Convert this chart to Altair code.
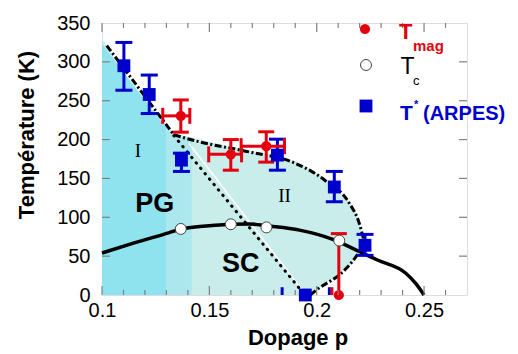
import altair as alt
import pandas as pd

# ---------------- data ----------------
# Tc dome (solid black curve)
dome_p = [0.100, 0.115, 0.131, 0.137, 0.1455, 0.160, 0.1687, 0.1766, 0.192, 0.2075, 0.2198, 0.2283, 0.2415, 0.2461, 0.250]
dome_T = [54, 67, 80, 85, 88, 91, 91.5, 89, 83.5, 71.6, 56, 45, 28, 15, 0]

# T* crossover (dash-dot boundary), split in three pieces
left_p = [0.1022, 0.1335]
left_T = [321, 206]
upper_p = [0.1335, 0.1455, 0.1687, 0.1896, 0.2036, 0.2152, 0.2198, 0.2222]
upper_T = [206, 197, 184, 170, 148, 118, 92.5, 68]
lower_p = [0.1970, 0.1997, 0.2137, 0.2198, 0.2222]
lower_T = [0, 6, 34, 55.7, 68]

# dotted line and white line
dot_p = [0.1335, 0.1945]
dot_T = [205, 0]
white_p = [0.1405, 0.1945]
white_T = [195, 2]

# shaded regions
light_p = [0.100, 0.1335, 0.1455, 0.1687, 0.1896, 0.197, 0.1997, 0.2036, 0.2137, 0.2152, 0.2198, 0.2222]
light_top = [330, 210, 200, 186, 172, 162, 158, 150, 124, 120, 94, 68]
light_bot = [0, 0, 0, 0, 0, 0, 6, 14, 34, 37, 55.7, 68]
dark_p = [0.100, 0.130]
dark_top = [323, 215]
hatch_p = [0.130, 0.1334, 0.1418]
hatch_top = [215, 203, 203]

# T* (ARPES) blue squares
arpes_p = [0.1102, 0.1220, 0.1370, 0.1817, 0.2082, 0.2225, 0.1947]
arpes_T = [295, 258, 173.5, 180, 139, 64, 0]
arpes_lo = [263.5, 233.5, 159, 160.6, 120, 51, None]
arpes_hi = [325, 283, 182.5, 200.5, 159, 78, None]

# T_mag red circles
mag_p = [0.1367, 0.1600, 0.1765, 0.2103]
mag_T = [230.5, 181, 191.5, 0]
mag_lo = [209.5, 160.6, 171, 0]
mag_hi = [251, 200, 210, 79]
mag_plo = [0.1283, 0.1497, 0.1648, None]
mag_phi = [0.1409, 0.1650, 0.1850, None]

# Tc open circles
tc_p = [0.1367, 0.1600, 0.1766, 0.2105]
tc_T = [85, 91, 87, 70]

# stubs of error bars at the bottom axis
stub_p = [0.1839, 0.2059, 0.2071]
stub_hi = [10, 10, 10]
stub_col = ["blue", "blue", "red"]

# region labels
lab_text = ["I", "II"]
lab_p = [0.1167, 0.185]
lab_T = [177, 120]
big_text = ["PG", "SC"]
big_p = [0.1246, 0.1646]
big_T = [106.7, 29.6]

x_labels = [0.1, 0.15, 0.2, 0.25]
y_labels = [0, 50, 100, 150, 200, 250, 300, 350]
x_minor = [0.11, 0.12, 0.13, 0.14, 0.16, 0.17, 0.18, 0.19, 0.21, 0.22, 0.23, 0.24, 0.26]

# ---------------- styling ----------------
W, H = 365, 272
FONT = "Liberation Sans"
RED = "#E3000F"
BLUE = "#0000CC"
DARK = "#8EE3EE"
LIGHT = "#C9EDEA"
HATCH = "#ACE7EE"
GRAY = "#808080"

xs = alt.Scale(domain=[0.1, 0.27], nice=False, zero=False)
ys = alt.Scale(domain=[0, 350], nice=False)
xax = alt.Axis(values=x_labels, format=".2~f", ticks=False, tickSize=0, domain=False, grid=False,
               labelFlush=False, labelOverlap=False,
               labelFont=FONT, labelFontSize=20, labelColor="black", labelPadding=5, title=None)
yax = alt.Axis(values=y_labels, ticks=False, tickSize=0, domain=False, grid=False,
               labelFlush=False, labelOverlap=False,
               labelFont=FONT, labelFontSize=20, labelColor="black", labelPadding=12, title=None)


def X(f="p"):
    return alt.X(f"{f}:Q", scale=xs, axis=xax)


def Y(f="T"):
    return alt.Y(f"{f}:Q", scale=ys, axis=yax)


one = pd.DataFrame({"a": [0]})
layers = []

# areas
df_light = pd.DataFrame({"p": light_p, "top": light_top, "bot": light_bot})
layers.append(alt.Chart(df_light).mark_area(color=LIGHT, opacity=1, interpolate="monotone").encode(
    x=X(), y=Y("top"), y2="bot:Q"))
df_dark = pd.DataFrame({"p": dark_p, "top": dark_top, "bot": [0] * len(dark_p)})
layers.append(alt.Chart(df_dark).mark_area(color=DARK, opacity=1).encode(x=X(), y=Y("top"), y2="bot:Q"))
df_hatch = pd.DataFrame({"p": hatch_p, "top": hatch_top, "bot": [0] * len(hatch_p)})
layers.append(alt.Chart(df_hatch).mark_area(color=HATCH, opacity=1).encode(x=X(), y=Y("top"), y2="bot:Q"))

# white and dotted lines
layers.append(alt.Chart(pd.DataFrame({"p": white_p, "T": white_T})).mark_line(
    color="white", strokeWidth=1.6).encode(x=X(), y=Y()))
layers.append(alt.Chart(pd.DataFrame({"p": dot_p, "T": dot_T})).mark_line(
    color="black", strokeWidth=3, strokeDash=[0.5, 6.5], strokeCap="round").encode(x=X(), y=Y()))

# T* boundary
dash = [7, 2.5, 2, 2.5]
layers.append(alt.Chart(pd.DataFrame({"p": left_p, "T": left_T})).mark_line(
    color="black", strokeWidth=3, strokeDash=dash).encode(x=X(), y=Y()))
layers.append(alt.Chart(pd.DataFrame({"p": upper_p, "T": upper_T})).mark_line(
    color="black", strokeWidth=3, strokeDash=dash, interpolate="monotone").encode(x=X(), y=Y()))
layers.append(alt.Chart(pd.DataFrame({"p": lower_p, "T": lower_T})).mark_line(
    color="black", strokeWidth=3, strokeDash=dash, interpolate="monotone").encode(x=X(), y=Y()))

# Tc dome
layers.append(alt.Chart(pd.DataFrame({"p": dome_p, "T": dome_T})).mark_line(
    color="black", strokeWidth=3.5, interpolate="monotone").encode(x=X(), y=Y()))

# error bars: ARPES
df_ar = pd.DataFrame({"p": arpes_p, "T": arpes_T, "lo": arpes_lo, "hi": arpes_hi}).dropna()
layers.append(alt.Chart(df_ar).mark_rule(color=BLUE, strokeWidth=3).encode(x=X(), y=Y("lo"), y2="hi:Q"))
for f in ["lo", "hi"]:
    layers.append(alt.Chart(df_ar).mark_tick(color=BLUE, orient="horizontal", size=17, thickness=3, opacity=1).encode(
        x=X(), y=Y(f)))

# error bars: Tmag
df_mag = pd.DataFrame({"p": mag_p, "T": mag_T, "lo": mag_lo, "hi": mag_hi, "plo": mag_plo, "phi": mag_phi})
layers.append(alt.Chart(df_mag).mark_rule(color=RED, strokeWidth=3).encode(x=X(), y=Y("lo"), y2="hi:Q"))
layers.append(alt.Chart(df_mag).mark_tick(color=RED, orient="horizontal", size=16, thickness=3, opacity=1).encode(
    x=X(), y=Y("hi")))
df_mag_x = df_mag.dropna()
layers.append(alt.Chart(df_mag_x).mark_tick(color=RED, orient="horizontal", size=16, thickness=3, opacity=1).encode(
    x=X(), y=Y("lo")))
layers.append(alt.Chart(df_mag_x).mark_rule(color=RED, strokeWidth=3).encode(x=X("plo"), x2="phi:Q", y=Y()))
for f in ["plo", "phi"]:
    layers.append(alt.Chart(df_mag_x).mark_tick(color=RED, orient="vertical", size=16, thickness=3, opacity=1).encode(
        x=X(f), y=Y()))

# stubs at the bottom
df_stub = pd.DataFrame({"p": stub_p, "lo": [0] * len(stub_p), "hi": stub_hi, "c": stub_col})
layers.append(alt.Chart(df_stub).mark_rule(strokeWidth=3).encode(
    x=X(), y=Y("lo"), y2="hi:Q",
    color=alt.Color("c:N", scale=alt.Scale(domain=["blue", "red"], range=[BLUE, RED]), legend=None)))

# markers
layers.append(alt.Chart(pd.DataFrame({"p": mag_p, "T": mag_T})).mark_circle(
    color=RED, size=105, opacity=1).encode(x=X(), y=Y()))
layers.append(alt.Chart(pd.DataFrame({"p": arpes_p, "T": arpes_T})).mark_square(
    color=BLUE, size=165, opacity=1).encode(x=X(), y=Y()))
layers.append(alt.Chart(pd.DataFrame({"p": tc_p, "T": tc_T})).mark_circle(
    fill="white", stroke="#444444", strokeWidth=1, size=120, opacity=1).encode(x=X(), y=Y()))

# region labels
layers.append(alt.Chart(pd.DataFrame({"p": lab_p, "T": lab_T, "t": lab_text})).mark_text(
    font="Liberation Serif", fontSize=19, baseline="alphabetic", align="center", color="black").encode(
    x=X(), y=Y(), text="t:N"))
layers.append(alt.Chart(pd.DataFrame({"p": big_p, "T": big_T, "t": big_text})).mark_text(
    font=FONT, fontSize=27, fontWeight="bold", baseline="alphabetic", align="center", color="black").encode(
    x=X(), y=Y(), text="t:N"))

# frame ticks (inward)
df_xmaj = pd.DataFrame({"p": x_labels})
df_xmin = pd.DataFrame({"p": x_minor})
df_y = pd.DataFrame({"T": y_labels[1:-1]})
for df, ln in [(df_xmaj, 9), (df_xmin, 5)]:
    layers.append(alt.Chart(df).mark_rule(color=GRAY, strokeWidth=1.2).encode(
        x=X(), y=alt.value(H), y2=alt.value(H - ln)))
    layers.append(alt.Chart(df).mark_rule(color=GRAY, strokeWidth=1.2).encode(
        x=X(), y=alt.value(0), y2=alt.value(ln)))
layers.append(alt.Chart(df_y).mark_rule(color=GRAY, strokeWidth=1.2).encode(
    y=Y(), x=alt.value(0), x2=alt.value(8)))
layers.append(alt.Chart(df_y).mark_rule(color=GRAY, strokeWidth=1.2).encode(
    y=Y(), x=alt.value(W), x2=alt.value(W - 8)))


# legend and titles (pixel positions)
def txt(s, x, y, size, color="black", weight="normal", angle=0, align="left"):
    return alt.Chart(one).mark_text(text=s, font=FONT, fontSize=size, fontWeight=weight, color=color,
                                    baseline="alphabetic", align=align, angle=angle).encode(
        x=alt.value(x), y=alt.value(y))


layers.append(alt.Chart(one).mark_circle(color=RED, size=105, opacity=1).encode(x=alt.value(263), y=alt.value(6)))
layers.append(alt.Chart(one).mark_circle(fill="white", stroke="#444444", strokeWidth=1, size=120, opacity=1).encode(
    x=alt.value(264), y=alt.value(42)))
layers.append(alt.Chart(one).mark_square(color=BLUE, size=165, opacity=1).encode(x=alt.value(264), y=alt.value(83)))
layers.append(txt("T", 297, 15.5, 22, RED, "bold"))
layers.append(txt("mag", 311, 28, 15, RED, "bold"))
layers.append(txt("T", 298.5, 51, 23, "black"))
layers.append(txt("c", 311, 62, 13, "black"))
layers.append(txt("T", 298, 97, 21, BLUE, "bold"))
layers.append(txt("*", 312, 85, 11, BLUE, "bold"))
layers.append(txt("(ARPES)", 321, 97, 20, BLUE, "bold"))

layers.append(alt.Chart(one).mark_text(text="Température (K)", font=FONT, fontSize=22, fontWeight="bold",
                                       color="black", baseline="middle", align="center", angle=270).encode(
    x=alt.value(-75), y=alt.value(112)))
layers.append(txt("Dopage p", 196, 322, 22, "black", "bold", align="center"))

chart = alt.layer(*layers).properties(
    width=W, height=H,
    autosize=alt.AutoSizeParams(type="none"),
    padding={"left": 94, "top": 15, "right": 43, "bottom": 55},
).configure_view(stroke=GRAY, strokeWidth=1.5).configure(background="white")

chart.save("out.html", embed_options={"renderer": "svg", "actions": False})
